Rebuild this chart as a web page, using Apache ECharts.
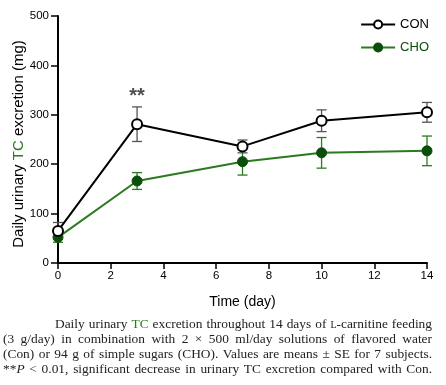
<!DOCTYPE html>
<html><head><meta charset="utf-8">
<script src="https://cdn.jsdelivr.net/npm/echarts@6/dist/echarts.min.js"></script>
<style>html,body{margin:0;padding:0;background:#fff}#c{width:446px;height:385px}</style>
</head><body><div id="c"></div>
<script>
const days = [0, 3, 7, 10, 14];
const conMean = [65, 281, 236, 288, 305];
const conSE = [17, 35, 13, 22, 20];
const choMean = [52, 166, 205, 223, 227];
const choSE = [10, 17, 27, 31, 30];
const yTicks = [0, 100, 200, 300, 400, 500];
const xTicks = [0, 2, 4, 6, 8, 10, 12, 14];
const sigMarks = [[3, 337, '**']];
const captionLines = [
  [{t:'Daily'},{t:'urinary'},{t:'TC',c:'#2a7a1e'},{t:'excretion'},{t:'throughout'},{t:'14'},{t:'days'},{t:'of'},{t:'L',s:10},{t:'-carnitine',join:true},{t:'feeding'}],
  [{t:'(3'},{t:'g/day)'},{t:'in'},{t:'combination'},{t:'with'},{t:'2'},{t:'×'},{t:'500'},{t:'ml/day'},{t:'solutions'},{t:'of'},{t:'flavored'},{t:'water'}],
  [{t:'(Con)'},{t:'or'},{t:'94'},{t:'g'},{t:'of'},{t:'simple'},{t:'sugars'},{t:'(CHO).'},{t:'Values'},{t:'are'},{t:'means'},{t:'±'},{t:'SE'},{t:'for'},{t:'7'},{t:'subjects.'}],
  [{t:'**'},{t:'P',i:true,join:true},{t:'<'},{t:'0.01,'},{t:'significant'},{t:'decrease'},{t:'in'},{t:'urinary'},{t:'TC'},{t:'excretion'},{t:'compared'},{t:'with'},{t:'Con.'}]
];

const GREEN_LINE = '#2b7a1f';
const GREEN_DOT = '#0b4d0b';
const chart = echarts.init(document.getElementById('c'), null, {renderer:'canvas'});

function errSeries(name, means, ses, color) {
  return {
    type: 'custom', name: name + '_err', z: 1, silent: true,
    data: days.map((d, i) => [d, means[i] - ses[i], means[i] + ses[i]]),
    renderItem: function (params, api) {
      const lo = api.coord([api.value(0), api.value(1)]);
      const hi = api.coord([api.value(0), api.value(2)]);
      const w = 5;
      return {
        type: 'group', children: [
          {type:'line', shape:{x1:lo[0],y1:lo[1],x2:hi[0],y2:hi[1]}, style:{stroke:color, lineWidth:1.3}},
          {type:'line', shape:{x1:lo[0]-w,y1:lo[1],x2:lo[0]+w,y2:lo[1]}, style:{stroke:color, lineWidth:1.3}},
          {type:'line', shape:{x1:hi[0]-w,y1:hi[1],x2:hi[0]+w,y2:hi[1]}, style:{stroke:color, lineWidth:1.3}}
        ]
      };
    }
  };
}

const cv = document.createElement('canvas').getContext('2d');
const FS = 13.4, FF = '"Liberation Serif", "DejaVu Serif", serif';
function fontOf(w){ return (w.i?'italic ':'') + (w.s||FS) + 'px ' + FF; }
const captionGraphics = [];
const lineY = [318, 333, 348, 363];
captionLines.forEach((words, li) => {
  const left = li === 0 ? 55 : 3, right = 432;
  const groups = [];
  words.forEach(w => { if (w.join && groups.length) groups[groups.length-1].push(w); else groups.push([w]); });
  const widths = groups.map(g => g.reduce((a, w) => { cv.font = fontOf(w); return a + cv.measureText(w.t).width; }, 0));
  const total = widths.reduce((a,b)=>a+b,0);
  const gap = Math.max(2.5, (right - left - total) / (groups.length - 1));
  let x = left;
  groups.forEach((g, gi) => {
    let xx = x;
    g.forEach(w => {
      cv.font = fontOf(w);
      captionGraphics.push({type:'text', left: xx, top: lineY[li] + (w.s ? 2.5 : 0), style:{text:w.t, font: fontOf(w), fill: w.c || '#222'}});
      xx += cv.measureText(w.t).width;
    });
    x += widths[gi] + gap;
  });
});
// y-axis title as rotated rich text
captionGraphics.push({
  type: 'text', x: 19, y: 144, rotation: Math.PI / 2,
  style: {
    text: '{a|Daily urinary }{g|TC}{a| excretion (mg)}', align: 'center', verticalAlign: 'middle',
    rich: {
      a: {fontFamily: 'Liberation Sans', fontSize: 15, fill: '#000'},
      g: {fontFamily: 'Liberation Sans', fontSize: 15, fill: '#2a7a1e'}
    }
  }
});

chart.setOption({
  animation: false,
  backgroundColor: '#fff',
  grid: {left: 58, right: 19, top: 16, bottom: 122, containLabel: false, outerBoundsMode: 'none'},
  legend: {
    right: 12, top: 13, orient: 'vertical', itemGap: 10, itemWidth: 34, itemHeight: 10,
    textStyle: {fontFamily: 'Liberation Sans', fontSize: 13},
    data: [{name:'CON', textStyle:{color:'#000'}}, {name:'CHO', textStyle:{color:GREEN_DOT}}]
  },
  xAxis: {
    type: 'value', min: 0, max: 14, interval: 2,
    name: 'Time (day)', nameLocation: 'middle', nameGap: 32,
    nameTextStyle: {fontFamily: 'Liberation Sans', fontSize: 14, color: '#000'},
    axisLine: {lineStyle: {color: '#000', width: 2}},
    axisTick: {length: 6, lineStyle: {color: '#000', width: 1.5}},
    axisLabel: {fontFamily: 'Liberation Sans', fontSize: 11.5, color: '#000', margin: 7,
      formatter: v => xTicks.indexOf(v) >= 0 ? String(v) : ''},
    splitLine: {show: false}
  },
  yAxis: {
    type: 'value', min: 0, max: 500, interval: 100,
    axisLine: {show: true, lineStyle: {color: '#000', width: 2}},
    axisTick: {show: true, length: 7, lineStyle: {color: '#000', width: 1.5}},
    axisLabel: {fontFamily: 'Liberation Sans', fontSize: 11.5, color: '#000', margin: 9,
      formatter: v => yTicks.indexOf(v) >= 0 ? String(v) : ''},
    splitLine: {show: false}
  },
  series: [
    errSeries('CON', conMean, conSE, '#555'),
    errSeries('CHO', choMean, choSE, '#2b7a1f'),
    {
      name: 'CHO', type: 'line', z: 3,
      data: days.map((d, i) => [d, choMean[i]]),
      symbol: 'circle', symbolSize: 10,
      lineStyle: {color: GREEN_LINE, width: 2},
      itemStyle: {color: GREEN_DOT, borderColor: GREEN_DOT, borderWidth: 1}
    },
    {
      name: 'CON', type: 'line', z: 4,
      data: days.map((d, i) => [d, conMean[i]]),
      symbol: 'circle', symbolSize: 10,
      lineStyle: {color: '#000', width: 2},
      itemStyle: {color: '#fff', borderColor: '#000', borderWidth: 2}
    },
    {
      type: 'scatter', z: 5, silent: true, symbolSize: 0,
      data: sigMarks.map(m => [m[0], m[1], m[2]]),
      label: {show: true, position: 'inside', formatter: p => p.data[2],
        fontFamily: 'Liberation Sans', fontSize: 20, fontWeight: 'bold', color: '#222'}
    }
  ],
  graphic: captionGraphics
});
</script></body></html>
